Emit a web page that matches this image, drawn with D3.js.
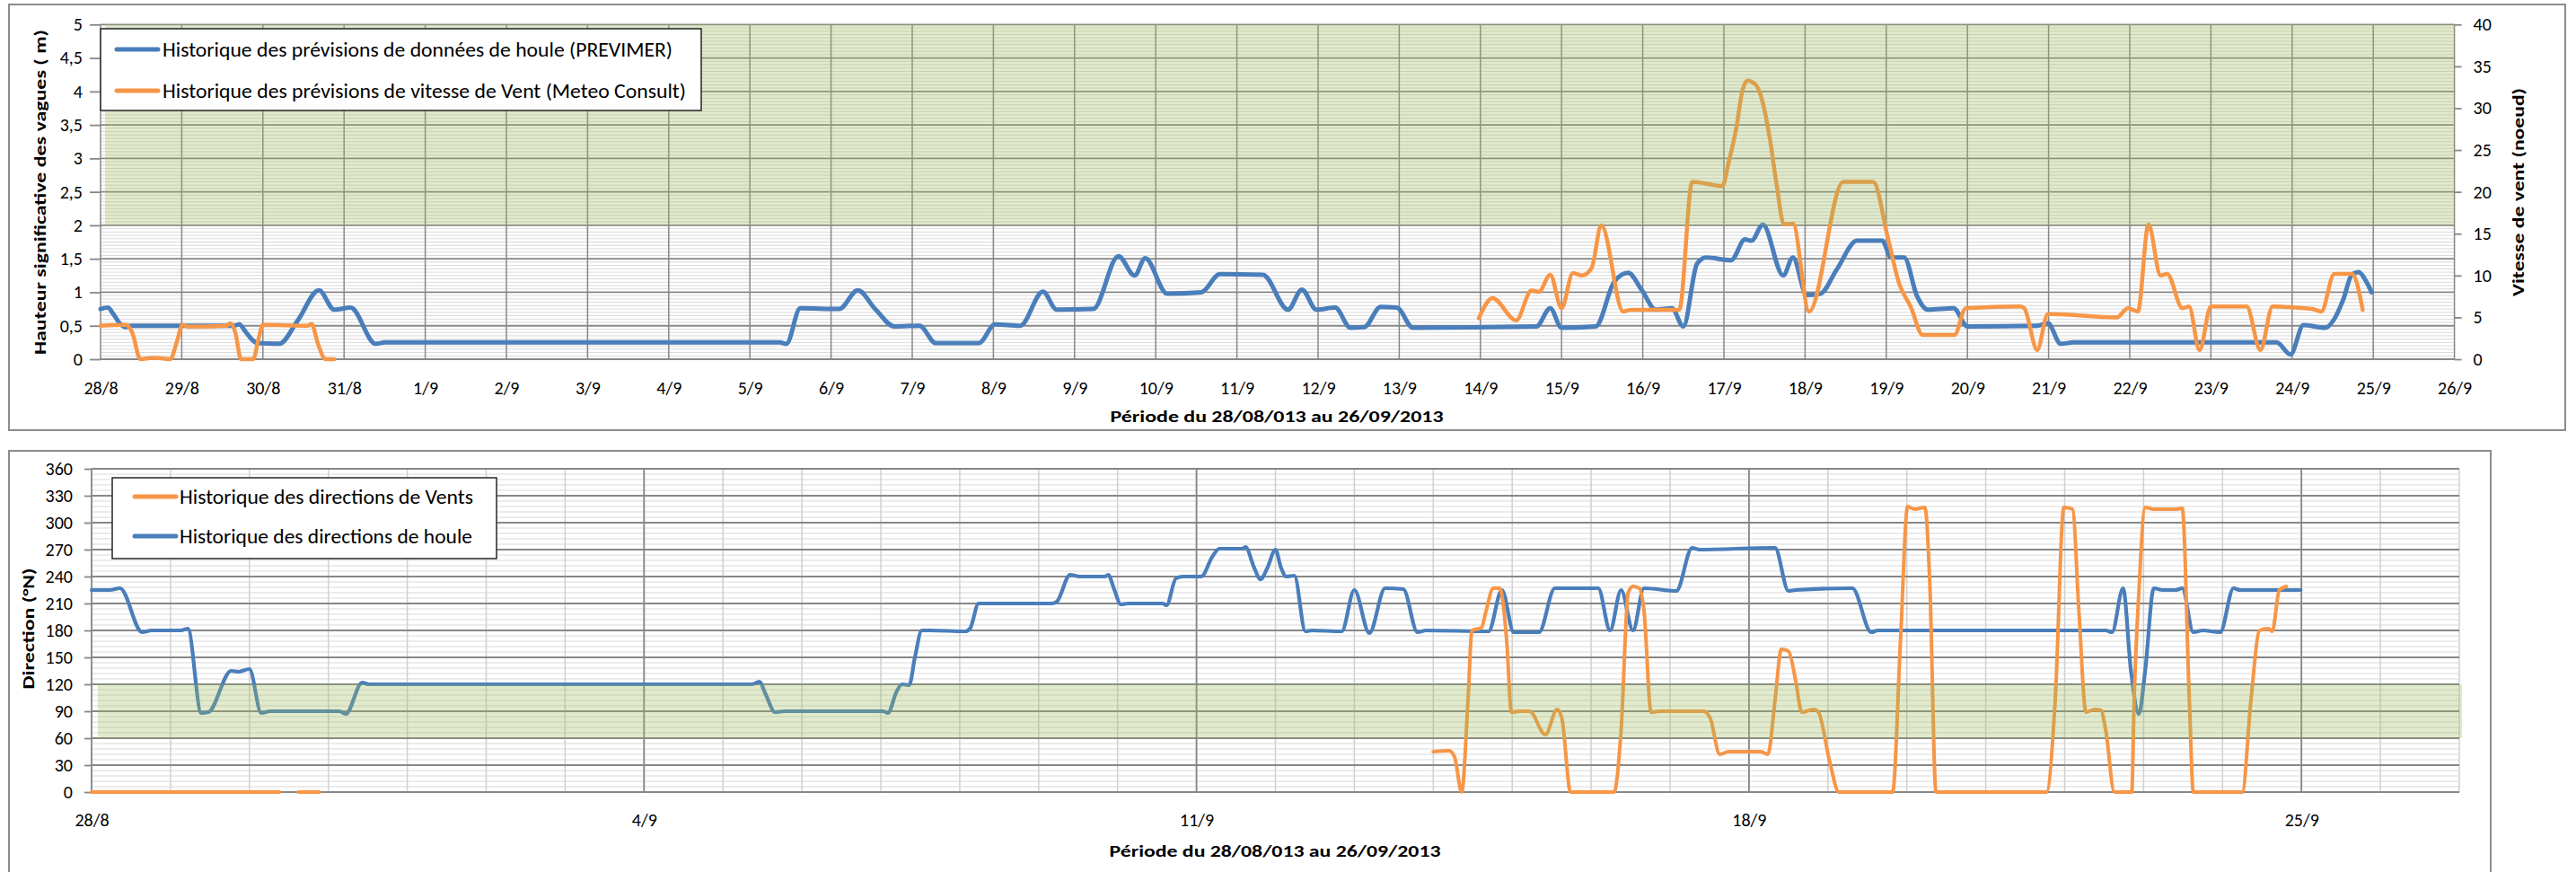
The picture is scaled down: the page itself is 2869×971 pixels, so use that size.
<!DOCTYPE html>
<html>
<head>
<meta charset="utf-8">
<script src="https://cdn.jsdelivr.net/npm/d3@7"></script>
<style>
  html, body { margin: 0; padding: 0; background: #ffffff; }
  svg { display: block; }
  text { font-family: Carlito, Calibri, Lato, "Liberation Sans", sans-serif; fill: #000; }
</style>
</head>
<body>
<svg id="chart" width="2869" height="971"></svg>
<script>
// ---- Series: [days since 28/08/2013 00:00, value] ----

// Hauteur significative des vagues (m) - PREVIMER
const houleHauteur = [
  [0,0.75],[0.09,0.77],[0.16,0.67],[0.24,0.53],[0.31,0.48],[0.37,0.5],[1.64,0.5],[1.71,0.52],
  [1.78,0.42],[1.86,0.3],[1.93,0.24],[2.2,0.23],[2.43,0.58],[2.69,1.03],[2.88,0.74],[3.08,0.77],
  [3.39,0.23],[3.5,0.25],[8.37,0.25],[8.45,0.23],[8.62,0.76],[9.1,0.75],[9.33,1.03],[9.55,0.74],
  [9.78,0.49],[10.09,0.5],[10.29,0.24],[10.82,0.24],[11.02,0.52],[11.33,0.5],[11.61,1.01],[11.78,0.74],
  [12.23,0.75],[12.54,1.54],[12.74,1.25],[12.87,1.51],[13.14,0.98],[13.56,1.0],[13.79,1.27],[14.32,1.26],
  [14.63,0.74],[14.8,1.04],[14.98,0.74],[15.21,0.77],[15.4,0.47],[15.57,0.48],[15.77,0.78],[15.97,0.77],
  [16.17,0.47],[17.69,0.49],[17.86,0.76],[18.0,0.47],[18.42,0.49],[18.65,1.16],[18.82,1.29],[18.99,1.03],
  [19.16,0.74],[19.36,0.76],[19.5,0.49],[19.67,1.43],[19.78,1.52],[20.09,1.48],[20.26,1.79],[20.34,1.77],
  [20.48,2.01],[20.73,1.25],[20.85,1.52],[21.02,0.96],[21.19,0.98],[21.39,1.34],[21.64,1.77],[21.95,1.77],
  [22.06,1.52],[22.22,1.52],[22.38,0.94],[22.51,0.74],[22.83,0.76],[23.0,0.49],[23.86,0.5],[23.99,0.54],
  [24.15,0.23],[24.3,0.25],[26.81,0.25],[26.98,0.07],[27.14,0.51],[27.41,0.47],[27.52,0.6],[27.63,0.89],
  [27.74,1.27],[27.82,1.3],[27.9,1.19],[27.98,1.0]
];

// Vitesse de vent (noeud) - Meteo Consult ; null = pas de prévision
const ventVitesse = [
  [0,4],[0.31,4.1],[0.39,3.2],[0.49,0],[0.64,0.15],[0.75,0.1],[0.86,0],[0.94,2.1],[1.01,4.1],
  [1.08,3.9],[1.55,4],[1.6,4.3],[1.66,3.2],[1.73,0],[1.88,0],[1.95,2.6],[2.0,4.1],[2.55,4],
  [2.6,4.2],[2.68,1.8],[2.77,0],[2.88,0],[2.9,null],
  [16.98,4.9],[17.15,7.3],[17.44,4.65],[17.63,8.2],[17.72,8.05],[17.86,10.1],[18.0,6.1],[18.14,10.3],
  [18.25,10.0],[18.37,10.9],[18.49,16.0],[18.76,5.7],[18.85,5.9],[19.45,5.9],[19.61,21.2],[19.98,20.7],
  [20.06,23.6],[20.15,27.5],[20.23,32.2],[20.29,33.3],[20.4,32.7],[20.48,30.6],[20.57,26.1],[20.65,20.8],
  [20.74,16.1],[20.85,16.2],[21.05,5.7],[21.47,21.2],[21.84,21.2],[22.02,14.5],[22.16,9.0],[22.3,6.3],
  [22.45,2.9],[22.84,2.9],[22.98,6.1],[23.65,6.3],[23.7,6.1],[23.86,1.1],[23.99,5.4],[24.84,5.0],
  [24.98,6.1],[25.1,5.7],[25.23,16.1],[25.38,10.0],[25.46,10.2],[25.65,6.1],[25.73,6.3],[25.86,1.1],
  [26.0,6.3],[26.44,6.3],[26.61,1.1],[26.76,6.3],[27.25,6.0],[27.36,5.7],[27.52,10.2],[27.74,10.2],
  [27.87,5.9]
];

// Direction de la houle (°N)
const houleDirection = [
  [0,225],[0.23,225],[0.36,227],[0.64,178],[0.76,180],[1.13,180],[1.22,182],[1.39,88],[1.48,89],
  [1.77,135],[1.86,134],[2.0,137],[2.15,88],[2.26,90],[3.14,90],[3.22,87],[3.43,122],[3.51,120],
  [8.37,120],[8.46,123],[8.54,109],[8.66,89],[8.78,90],[10.03,90],[10.09,88],[10.2,112],[10.27,120],
  [10.36,119],[10.43,149],[10.52,180],[10.63,180],[11.07,179],[11.13,182],[11.24,210],[11.33,210],
  [12.17,210],[12.23,212],[12.4,242],[12.52,240],[12.84,240],[12.88,242],[12.96,225],[13.04,209],
  [13.13,210],[13.57,210],[13.62,208],[13.74,238],[13.83,240],[14.06,240],[14.2,262],[14.29,271],
  [14.58,271],[14.62,273],[14.73,250],[14.81,237],[14.9,250],[15.0,270],[15.07,250],[15.14,240],
  [15.24,241],[15.38,179],[15.46,180],[15.84,179],[16.0,225],[16.19,177],[16.39,227],[16.62,226],
  [16.8,178],[16.91,180],[17.7,179],[17.87,225],[18.02,178],[18.34,178],[18.54,227],[19.09,227],
  [19.24,180],[19.38,225],[19.53,180],[19.67,227],[20.08,224],[20.28,272],[20.37,270],[21.33,272],
  [21.5,224],[21.59,225],[22.31,227],[22.55,178],[22.63,180],[25.52,180],[25.6,178],[25.74,227],
  [25.84,135],[25.94,87],[26.02,135],[26.13,227],[26.24,225],[26.41,225],[26.49,227],[26.63,178],
  [26.75,180],[26.97,178],[27.14,227],[27.22,225],[27.99,225]
];

// Direction du vent (°N) ; null = pas de prévision
const ventDirection = [
  [0,0],[2.38,0],[2.5,null],[2.62,0],[2.885,0],[2.9,null],
  [17.0,45],[17.2,46],[17.27,39],[17.36,0],[17.44,102],[17.49,180],[17.61,183],[17.67,202],[17.76,227],
  [17.84,227],[17.93,169],[17.99,89],[18.1,90],[18.22,90],[18.42,64],[18.57,92],[18.63,82],[18.74,0],
  [19.29,0],[19.38,69],[19.47,222],[19.53,229],[19.61,227],[19.67,202],[19.76,89],[19.87,90],[20.43,90],
  [20.51,82],[20.63,42],[20.74,45],[21.15,45],[21.24,42],[21.33,102],[21.41,159],[21.5,157],[21.59,125],
  [21.67,89],[21.82,92],[21.88,89],[22.02,35],[22.14,0],[22.82,0],[22.92,169],[23.01,318],[23.1,315],
  [23.23,317],[23.29,235],[23.37,0],[24.77,0],[24.88,102],[24.99,317],[25.1,315],[25.18,202],[25.27,89],
  [25.38,92],[25.46,91],[25.52,69],[25.63,0],[25.85,0],[25.88,102],[25.94,222],[26.02,317],[26.13,315],
  [26.41,315],[26.49,316],[26.58,102],[26.63,0],[27.25,0],[27.36,102],[27.47,180],[27.58,182],
  [27.63,179],[27.72,225],[27.81,229]
];

// ---- Axes ----
const hauteurTicks = [0, 0.5, 1, 1.5, 2, 2.5, 3, 3.5, 4, 4.5, 5];
const vitesseTicks = [0, 5, 10, 15, 20, 25, 30, 35, 40];
const directionTicks = [0, 30, 60, 90, 120, 150, 180, 210, 240, 270, 300, 330, 360];
const zoneHauteur = [2, 5];       // bande verte, graphique hauteur/vitesse
const zoneDirection = [60, 120];  // bande verte, graphique directions

const titreX = "Période du 28/08/013 au 26/09/2013";
const titreHauteur = "Hauteur significative des vagues ( m)";
const titreVitesse = "Vitesse de vent (noeud)";
const titreDirection = "Direction (°N)";
const legendeHaut = ["Historique des prévisions de données de houle (PREVIMER)",
                     "Historique des prévisions de vitesse de Vent (Meteo Consult)"];
const legendeBas = ["Historique des directions de Vents", "Historique des directions de houle"];

// ---- Styles ----
const BLUE = "#4a7ebb", ORANGE = "#f79646", BAND = "#9bbb59";
const MAJOR = "#878787", MINOR = "#d9d9d9", FRAME = "#8c8c8c";
const START = Date.UTC(2013, 7, 28);
const DAY = 864e5;
const toDate = d => new Date(START + d * DAY);
const frDec = v => String(v).replace(".", ",");

const svg = d3.select("#chart");

// ====================== Graphique 1 : hauteur + vitesse ======================
const g1 = svg.append("g");
g1.append("rect").attr("x", 10).attr("y", 5).attr("width", 2847).attr("height", 474)
  .attr("fill", "#fff").attr("stroke", FRAME).attr("stroke-width", 2);

const x1 = d3.scaleUtc().domain([toDate(0), toDate(29)]).range([112, 2733.6]);
const yL = d3.scaleLinear().domain([0, 5]).range([400, 27.3]);
const yR = d3.scaleLinear().domain([0, 40]).range([400, 27.3]);

// minor horizontal grid
const minor1 = d3.range(0, 100).map(i => i * 0.05).filter((v, i) => i % 10 !== 0);
g1.append("g").selectAll("line").data(minor1).join("line")
  .attr("x1", x1.range()[0]).attr("x2", x1.range()[1])
  .attr("y1", d => yL(d)).attr("y2", d => yL(d))
  .attr("stroke", MINOR).attr("stroke-width", 1);
// day verticals
const days1 = d3.utcDay.range(toDate(0), toDate(29.5));
g1.append("g").selectAll("line").data(days1).join("line")
  .attr("x1", d => x1(d)).attr("x2", d => x1(d))
  .attr("y1", yL(0)).attr("y2", yL(5))
  .attr("stroke", MAJOR).attr("stroke-width", 1.5);
// major horizontal grid
g1.append("g").selectAll("line").data(hauteurTicks).join("line")
  .attr("x1", x1.range()[0]).attr("x2", x1.range()[1])
  .attr("y1", d => yL(d)).attr("y2", d => yL(d))
  .attr("stroke", MAJOR).attr("stroke-width", 1.8);

// axes
const axL = d3.axisLeft(yL).tickValues(hauteurTicks).tickFormat(frDec).tickSizeInner(12).tickSizeOuter(0).tickPadding(8);
const axR = d3.axisRight(yR).tickValues(vitesseTicks).tickFormat(d => d).tickSizeInner(8).tickSizeOuter(0).tickPadding(13);
const axB1 = d3.axisBottom(x1).tickValues(days1).tickFormat(d3.utcFormat("%-d/%-m")).tickSize(0).tickPadding(25);
function styleAxis(sel, size) {
  sel.select(".domain").remove();
  sel.selectAll(".tick line").attr("stroke", MAJOR).attr("stroke-width", 1.8);
  sel.selectAll(".tick text").attr("font-size", size).attr("fill", "#000")
     .attr("font-family", "Carlito, Calibri, Lato, sans-serif");
}
g1.append("g").attr("transform", "translate(112,0)").call(axL).call(styleAxis, 20);
g1.append("g").attr("transform", "translate(2733.6,0)").call(axR).call(styleAxis, 20);
g1.append("g").attr("transform", "translate(0,400)").call(axB1).call(styleAxis, 20);

// series
const lineH = d3.line().defined(d => d[1] !== null)
  .x(d => x1(toDate(d[0]))).y(d => yL(d[1])).curve(d3.curveMonotoneX);
const lineV = d3.line().defined(d => d[1] !== null)
  .x(d => x1(toDate(d[0]))).y(d => yR(d[1])).curve(d3.curveMonotoneX);
g1.append("path").datum(houleHauteur).attr("d", lineH)
  .attr("fill", "none").attr("stroke", BLUE).attr("stroke-width", 5)
  .attr("stroke-linejoin", "round").attr("stroke-linecap", "round");
g1.append("path").datum(ventVitesse).attr("d", lineV)
  .attr("fill", "none").attr("stroke", ORANGE).attr("stroke-width", 4.5)
  .attr("stroke-linejoin", "round").attr("stroke-linecap", "round");

// green zone (translucent, over grid and lines)
g1.append("rect")
  .attr("x", 117).attr("y", yL(zoneHauteur[1]))
  .attr("width", x1.range()[1] - 117).attr("height", yL(zoneHauteur[0]) - yL(zoneHauteur[1]))
  .attr("fill", BAND).attr("fill-opacity", 0.3);

// titles
g1.append("text").attr("x", 1422).attr("y", 470).attr("text-anchor", "middle")
  .attr("font-weight", "bold").attr("font-size", 19)
  .attr("textLength", 371).attr("lengthAdjust", "spacingAndGlyphs").text(titreX);
g1.append("text").attr("transform", "translate(51,214) rotate(-90)").attr("text-anchor", "middle")
  .attr("font-weight", "bold").attr("font-size", 19)
  .attr("textLength", 362).attr("lengthAdjust", "spacingAndGlyphs").text(titreHauteur);
g1.append("text").attr("transform", "translate(2811,214) rotate(-90)").attr("text-anchor", "middle")
  .attr("font-weight", "bold").attr("font-size", 19)
  .attr("textLength", 232).attr("lengthAdjust", "spacingAndGlyphs").text(titreVitesse);

// legend
const lg1 = g1.append("g");
lg1.append("rect").attr("x", 112).attr("y", 32).attr("width", 669).attr("height", 91)
  .attr("fill", "#fff").attr("stroke", "#262626").attr("stroke-width", 1.5);
[[BLUE, 55, 568], [ORANGE, 101, 583]].forEach(([c, y, w], i) => {
  lg1.append("line").attr("x1", 130).attr("x2", 176).attr("y1", y).attr("y2", y)
    .attr("stroke", c).attr("stroke-width", 5).attr("stroke-linecap", "round");
  lg1.append("text").attr("x", 181).attr("y", y + 8).attr("font-size", 22)
    .attr("textLength", w).attr("lengthAdjust", "spacingAndGlyphs").text(legendeHaut[i]);
});

// ====================== Graphique 2 : directions ======================
const g2 = svg.append("g");
g2.append("rect").attr("x", 10).attr("y", 502).attr("width", 2764).attr("height", 480)
  .attr("fill", "#fff").attr("stroke", FRAME).attr("stroke-width", 2);

const x2 = d3.scaleUtc().domain([toDate(0), toDate(30)]).range([102, 2739]);
const yD = d3.scaleLinear().domain([0, 360]).range([882, 522]);

const minor2 = d3.range(0, 60).map(i => i * 6).filter(v => v % 30 !== 0);
g2.append("g").selectAll("line").data(minor2).join("line")
  .attr("x1", x2.range()[0]).attr("x2", x2.range()[1])
  .attr("y1", d => yD(d)).attr("y2", d => yD(d))
  .attr("stroke", MINOR).attr("stroke-width", 1);
const days2 = d3.utcDay.range(toDate(0), toDate(30.5));
g2.append("g").selectAll("line").data(days2).join("line")
  .attr("x1", d => x2(d)).attr("x2", d => x2(d))
  .attr("y1", yD(0)).attr("y2", yD(360))
  .attr("stroke", "#d0d0d0").attr("stroke-width", 1.5);
g2.append("g").selectAll("line").data(directionTicks).join("line")
  .attr("x1", x2.range()[0]).attr("x2", x2.range()[1])
  .attr("y1", d => yD(d)).attr("y2", d => yD(d))
  .attr("stroke", MAJOR).attr("stroke-width", 1.8);
const weeks = d3.utcDay.range(toDate(0), toDate(30.5), 7);
g2.append("g").selectAll("line").data(weeks).join("line")
  .attr("x1", d => x2(d)).attr("x2", d => x2(d))
  .attr("y1", yD(0)).attr("y2", yD(360))
  .attr("stroke", MAJOR).attr("stroke-width", 1.8);

const axD = d3.axisLeft(yD).tickValues(directionTicks).tickSizeInner(8).tickSizeOuter(0).tickPadding(13);
const axB2 = d3.axisBottom(x2).tickValues(weeks).tickFormat(d3.utcFormat("%-d/%-m")).tickSize(0).tickPadding(24);
g2.append("g").attr("transform", "translate(102,0)").call(axD).call(styleAxis, 20);
g2.append("g").attr("transform", "translate(0,882)").call(axB2).call(styleAxis, 20);

const lineD = d3.line().defined(d => d[1] !== null)
  .x(d => x2(toDate(d[0]))).y(d => yD(d[1])).curve(d3.curveMonotoneX);
g2.append("path").datum(houleDirection).attr("d", lineD)
  .attr("fill", "none").attr("stroke", BLUE).attr("stroke-width", 4.2)
  .attr("stroke-linejoin", "round").attr("stroke-linecap", "round");
g2.append("path").datum(ventDirection).attr("d", lineD)
  .attr("fill", "none").attr("stroke", ORANGE).attr("stroke-width", 4)
  .attr("stroke-linejoin", "round").attr("stroke-linecap", "round");

g2.append("rect")
  .attr("x", 109).attr("y", yD(zoneDirection[1]))
  .attr("width", 2742 - 109).attr("height", yD(zoneDirection[0]) - yD(zoneDirection[1]))
  .attr("fill", BAND).attr("fill-opacity", 0.3);

g2.append("text").attr("x", 1420).attr("y", 954).attr("text-anchor", "middle")
  .attr("font-weight", "bold").attr("font-size", 19)
  .attr("textLength", 369).attr("lengthAdjust", "spacingAndGlyphs").text(titreX);
g2.append("text").attr("transform", "translate(38,700) rotate(-90)").attr("text-anchor", "middle")
  .attr("font-weight", "bold").attr("font-size", 19)
  .attr("textLength", 135).attr("lengthAdjust", "spacingAndGlyphs").text(titreDirection);

const lg2 = g2.append("g");
lg2.append("rect").attr("x", 125).attr("y", 532).attr("width", 428).attr("height", 90)
  .attr("fill", "#fff").attr("stroke", "#262626").attr("stroke-width", 1.5);
[[ORANGE, 553, 327], [BLUE, 597, 326]].forEach(([c, y, w], i) => {
  lg2.append("line").attr("x1", 150).attr("x2", 196).attr("y1", y).attr("y2", y)
    .attr("stroke", c).attr("stroke-width", 5).attr("stroke-linecap", "round");
  lg2.append("text").attr("x", 200).attr("y", y + 8).attr("font-size", 22)
    .attr("textLength", w).attr("lengthAdjust", "spacingAndGlyphs").text(legendeBas[i]);
});
</script>
</body>
</html>
